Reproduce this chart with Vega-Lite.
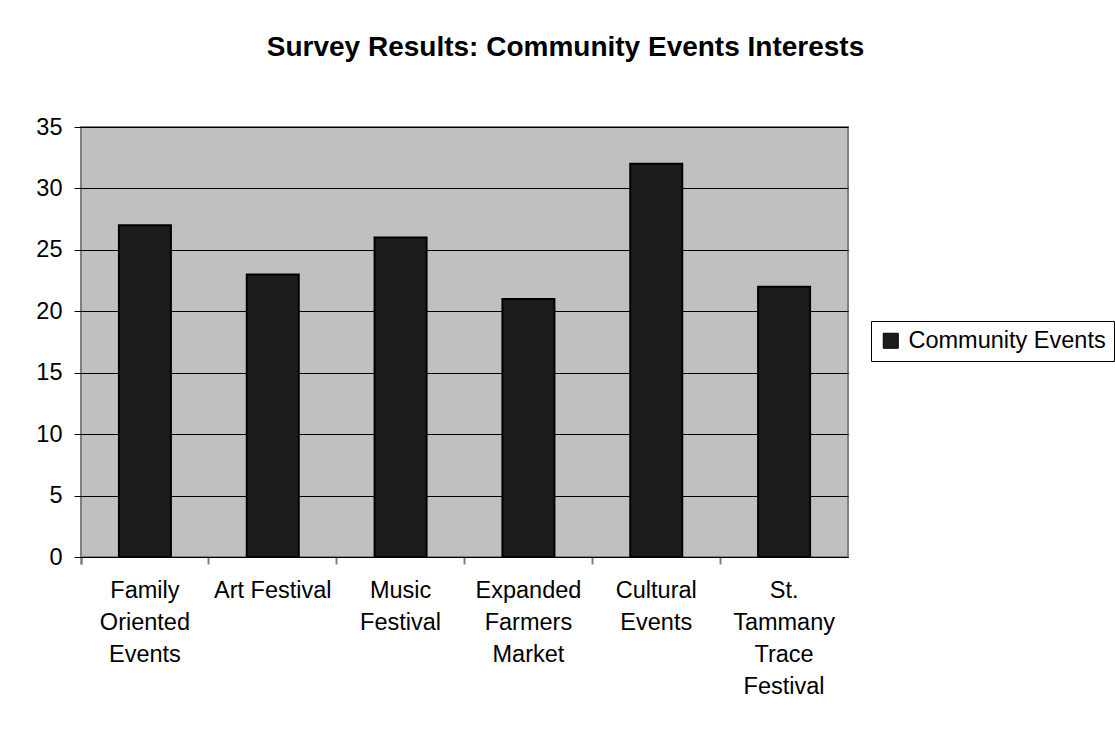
{
  "$schema": "https://vega.github.io/schema/vega-lite/v6.json",
  "autosize": {"type": "none"},
  "padding": {"left": 81, "top": 127, "right": 267, "bottom": 175},
  "width": 767,
  "height": 430,
  "background": "white",
  "title": {
    "text": "Survey Results: Community Events Interests",
    "font": "Liberation Sans",
    "fontSize": 28,
    "fontWeight": "bold",
    "color": "black",
    "anchor": "middle",
    "dx": 101,
    "offset": 53
  },
  "data": {
    "values": [
      {"event": "Family Oriented Events", "count": 27, "series": "Community Events"},
      {"event": "Art Festival", "count": 23, "series": "Community Events"},
      {"event": "Music Festival", "count": 26, "series": "Community Events"},
      {"event": "Expanded Farmers Market", "count": 21, "series": "Community Events"},
      {"event": "Cultural Events", "count": 32, "series": "Community Events"},
      {"event": "St. Tammany Trace Festival", "count": 22, "series": "Community Events"}
    ]
  },
  "mark": {"type": "bar", "size": 52, "stroke": "black", "strokeWidth": 2},
  "encoding": {
    "x": {
      "field": "event",
      "type": "nominal",
      "sort": null,
      "scale": {"paddingInner": 0, "paddingOuter": 0},
      "axis": {
        "title": null,
        "labelAngle": 0,
        "labelExpr": "datum.label == 'Art Festival' ? datum.label : split(datum.label, ' ')",
        "labelFont": "Liberation Sans",
        "labelFontSize": 23.5,
        "labelColor": "black",
        "labelLineHeight": 32,
        "labelBaseline": "top",
        "labelPadding": 14,
        "labelLimit": 400,
        "domainColor": "black",
        "domainWidth": 1,
        "tickColor": "#808080",
        "tickSize": 7,
        "tickWidth": 2,
        "bandPosition": 0,
        "tickExtra": true,
        "grid": false
      }
    },
    "y": {
      "field": "count",
      "type": "quantitative",
      "scale": {"domain": [0, 35], "nice": false},
      "axis": {
        "title": null,
        "values": [0, 5, 10, 15, 20, 25, 30, 35],
        "labelFont": "Liberation Sans",
        "labelFontSize": 23.5,
        "labelColor": "black",
        "labelPadding": 12,
        "tickColor": "black",
        "tickSize": 7,
        "domain": false,
        "grid": true,
        "gridColor": "black",
        "gridWidth": 1,
        "gridOpacity": 1
      }
    },
    "color": {
      "field": "series",
      "type": "nominal",
      "scale": {"range": ["#1c1c1c"]},
      "legend": {
        "title": null,
        "orient": "none",
        "legendX": 790,
        "legendY": 194,
        "symbolType": "square",
        "symbolSize": 225,
        "symbolStrokeColor": "black",
        "symbolStrokeWidth": 1,
        "symbolOpacity": 1,
        "labelFont": "Liberation Sans",
        "labelFontSize": 23.5,
        "labelColor": "black",
        "labelOffset": 6,
        "labelLimit": 400,
        "strokeColor": "black",
        "fillColor": "white",
        "padding": 8
      }
    }
  },
  "config": {
    "view": {"fill": "#c0c0c0", "stroke": "#808080", "strokeWidth": 2}
  }
}
